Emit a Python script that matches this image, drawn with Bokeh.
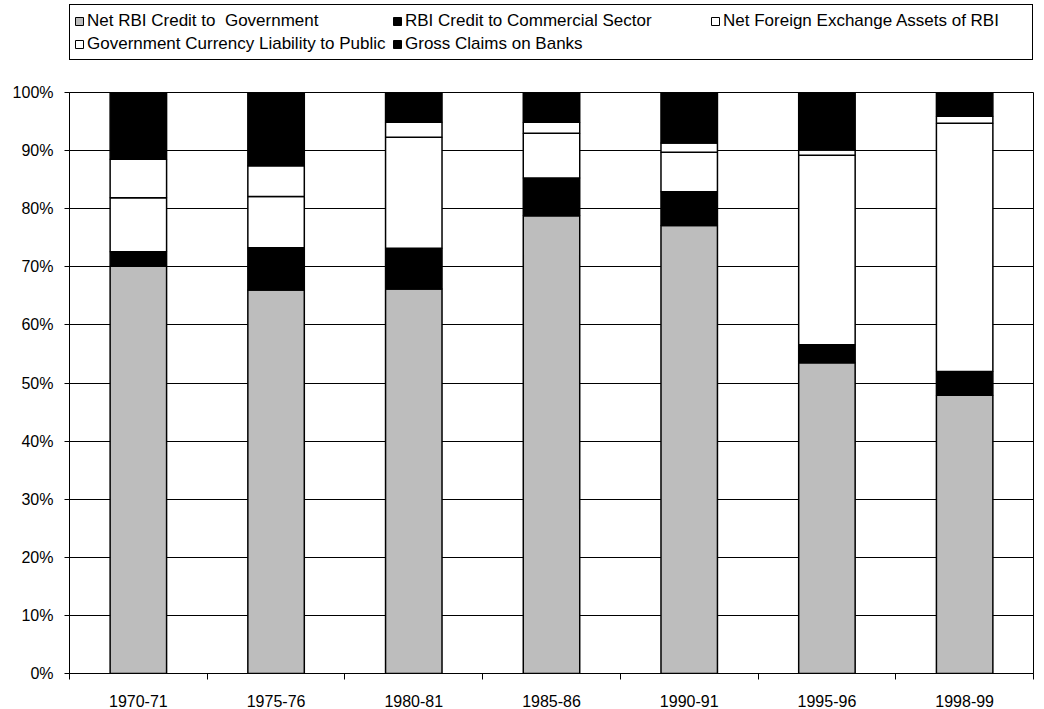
from bokeh.plotting import figure
from bokeh.models import (ColumnDataSource, Range1d, FixedTicker, NumeralTickFormatter,
                          Legend, LegendItem)
from bokeh.layouts import column
from bokeh.embed import file_html
from bokeh.resources import INLINE

years = ["1970-71", "1975-76", "1980-81", "1985-86", "1990-91", "1995-96", "1998-99"]
series = ["Net RBI Credit to  Government", "RBI Credit to Commercial Sector",
          "Net Foreign Exchange Assets of RBI", "Government Currency Liability to Public",
          "Gross Claims on Banks"]
net_rbi_credit_govt = [70.1, 66.0, 66.2, 78.8, 77.1, 53.5, 47.9]
rbi_credit_commercial = [2.5, 7.3, 7.0, 6.5, 5.8, 3.1, 4.1]
net_foreign_exchange = [9.3, 8.8, 19.1, 7.7, 6.8, 32.6, 42.7]
govt_currency_liability = [6.6, 5.3, 2.6, 1.9, 1.6, 0.9, 1.2]
gross_claims_banks = [11.5, 12.6, 5.1, 5.1, 8.7, 9.9, 4.1]
y_ticks = [0, 0.1, 0.2, 0.3, 0.4, 0.5, 0.6, 0.7, 0.8, 0.9, 1.0]

colors = ["#bdbdbd", "#000000", "#ffffff", "#ffffff", "#000000"]
keys = ["s0", "s1", "s2", "s3", "s4"]
vals = [net_rbi_credit_govt, rbi_credit_commercial, net_foreign_exchange,
        govt_currency_liability, gross_claims_banks]

xs = list(range(len(years)))
data = {"x": xs}
for k, v in zip(keys, vals):
    data[k] = [a / 100.0 for a in v]
source = ColumnDataSource(data)

FONT = "Liberation Sans"
W = 1044

# ---- legend strip ----
lg = figure(width=W, height=60, output_backend="svg", toolbar_location=None,
            x_range=Range1d(100, 101), y_range=Range1d(100, 101),
            x_axis_location=None, y_axis_location=None,
            min_border_left=0, min_border_right=0, min_border_top=0, min_border_bottom=0)
lg.xgrid.grid_line_color = None
lg.ygrid.grid_line_color = None
lg.outline_line_color = None
lg_renderers = lg.vbar_stack(keys, x="x", width=0.41, source=source, fill_color=colors,
                             line_color="black", line_width=1)
legend = Legend(items=[LegendItem(label=s, renderers=[r]) for s, r in zip(series, lg_renderers)],
                ncols=3, orientation="horizontal", location=(0, 0),
                label_text_font=FONT, label_text_font_size="17px", label_text_color="black",
                glyph_width=10, glyph_height=10, label_standoff=3,
                label_height=23, label_width=305, spacing=0, padding=4, margin=0,
                border_line_color="black", border_line_width=1, border_line_alpha=1,
                background_fill_alpha=1)
lg.add_layout(legend, "center")

# ---- main chart ----
p = figure(width=W, height=649, output_backend="svg", toolbar_location=None,
           x_range=Range1d(-0.5, 6.5), y_range=Range1d(0, 1),
           min_border_left=69, min_border_right=11, min_border_top=32, min_border_bottom=33)

p.vbar_stack(keys, x="x", width=0.41, source=source, fill_color=colors,
             line_color="black", line_width=1.5)

p.xaxis.ticker = FixedTicker(ticks=xs, minor_ticks=[i - 0.5 for i in range(len(years) + 1)])
p.xaxis.major_label_overrides = {i: y for i, y in zip(xs, years)}
p.xaxis.major_tick_line_color = None
p.xaxis.major_tick_out = 0
p.xaxis.minor_tick_out = 6
p.xaxis.minor_tick_in = 0
p.xaxis.minor_tick_line_color = "black"
p.xaxis.major_label_standoff = 15
p.yaxis.ticker = FixedTicker(ticks=y_ticks)
p.yaxis.formatter = NumeralTickFormatter(format="0%")
p.yaxis.major_tick_out = 5
p.yaxis.major_tick_in = 0
p.yaxis.major_tick_line_color = "black"
p.yaxis.minor_tick_line_color = None
p.yaxis.major_label_standoff = 11
for ax in (p.xaxis, p.yaxis):
    ax.axis_line_color = "black"
    ax.major_label_text_font = FONT
    ax.major_label_text_font_size = "16px"
    ax.major_label_text_color = "black"

p.xgrid.grid_line_color = None
p.ygrid.grid_line_color = "black"
p.ygrid.grid_line_alpha = 1
p.outline_line_color = "black"
p.outline_line_alpha = 1

layout = column(lg, p, spacing=0)
open("out.html", "w").write(file_html(layout, INLINE))
